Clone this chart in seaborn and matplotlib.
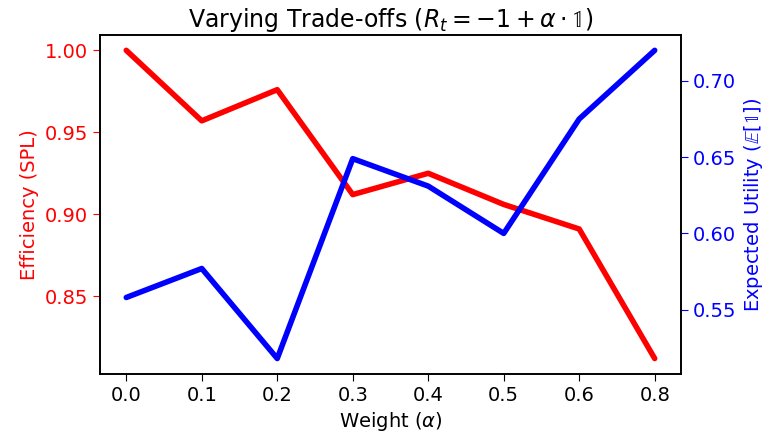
import numpy as np
import pandas as pd
import seaborn as sns
import matplotlib.pyplot as plt

# Data
weights = ["0.0", "0.1", "0.2", "0.3", "0.4", "0.5", "0.6", "0.8"]
spl = [1.000, 0.957, 0.976, 0.912, 0.925, 0.906, 0.891, 0.812]
utility = [0.558, 0.577, 0.518, 0.649, 0.631, 0.600, 0.675, 0.720]

df = pd.DataFrame({"pos": np.arange(len(weights)), "spl": spl, "utility": utility})

sns.set_style("white")
plt.rcParams["font.family"] = ["DejaVu Sans"]
plt.rcParams["mathtext.fontset"] = "dejavusans"
plt.rcParams["text.color"] = "black"
plt.rcParams["axes.labelcolor"] = "black"
plt.rcParams["xtick.color"] = "black"
plt.rcParams["ytick.color"] = "black"

fig, ax = plt.subplots(figsize=(7.74, 4.42), dpi=100)
sns.lineplot(data=df, x="pos", y="spl", color="red", linewidth=4, ax=ax)
ax.set_ylabel("Efficiency (SPL)", color="red", fontsize=14)
ax.set_yticks([0.85, 0.90, 0.95, 1.00])
ax.set_yticklabels(["0.85", "0.90", "0.95", "1.00"])
ax.tick_params(axis="y", colors="red", labelsize=14, direction="out", length=5, left=True)
ax.tick_params(axis="x", labelsize=14, direction="out", length=5, bottom=True)
ax.set_xticks(df["pos"])
ax.set_xticklabels(weights)
ax.set_xlabel(r"Weight ($\alpha$)", fontsize=14)

ax2 = ax.twinx()
sns.lineplot(data=df, x="pos", y="utility", color="blue", linewidth=4, ax=ax2)
ax2.set_ylabel(r"Expected Utility ($\mathbb{E}[\mathbb{1}]$)", color="blue", fontsize=14)
ax2.set_yticks([0.55, 0.60, 0.65, 0.70])
ax2.set_yticklabels(["0.55", "0.60", "0.65", "0.70"])
ax2.tick_params(axis="y", colors="blue", labelsize=14, direction="out", length=5, right=True)

for a in (ax, ax2):
    for s in a.spines.values():
        s.set_color("black")
        s.set_linewidth(1.2)

ax.set_title(r"Varying Trade-offs ($R_t = -1 + \alpha \cdot \mathbb{1}$)", fontsize=17, color="black")
fig.subplots_adjust(left=0.129, right=0.880, top=0.921, bottom=0.154)
fig.savefig("out.png", dpi=100)
